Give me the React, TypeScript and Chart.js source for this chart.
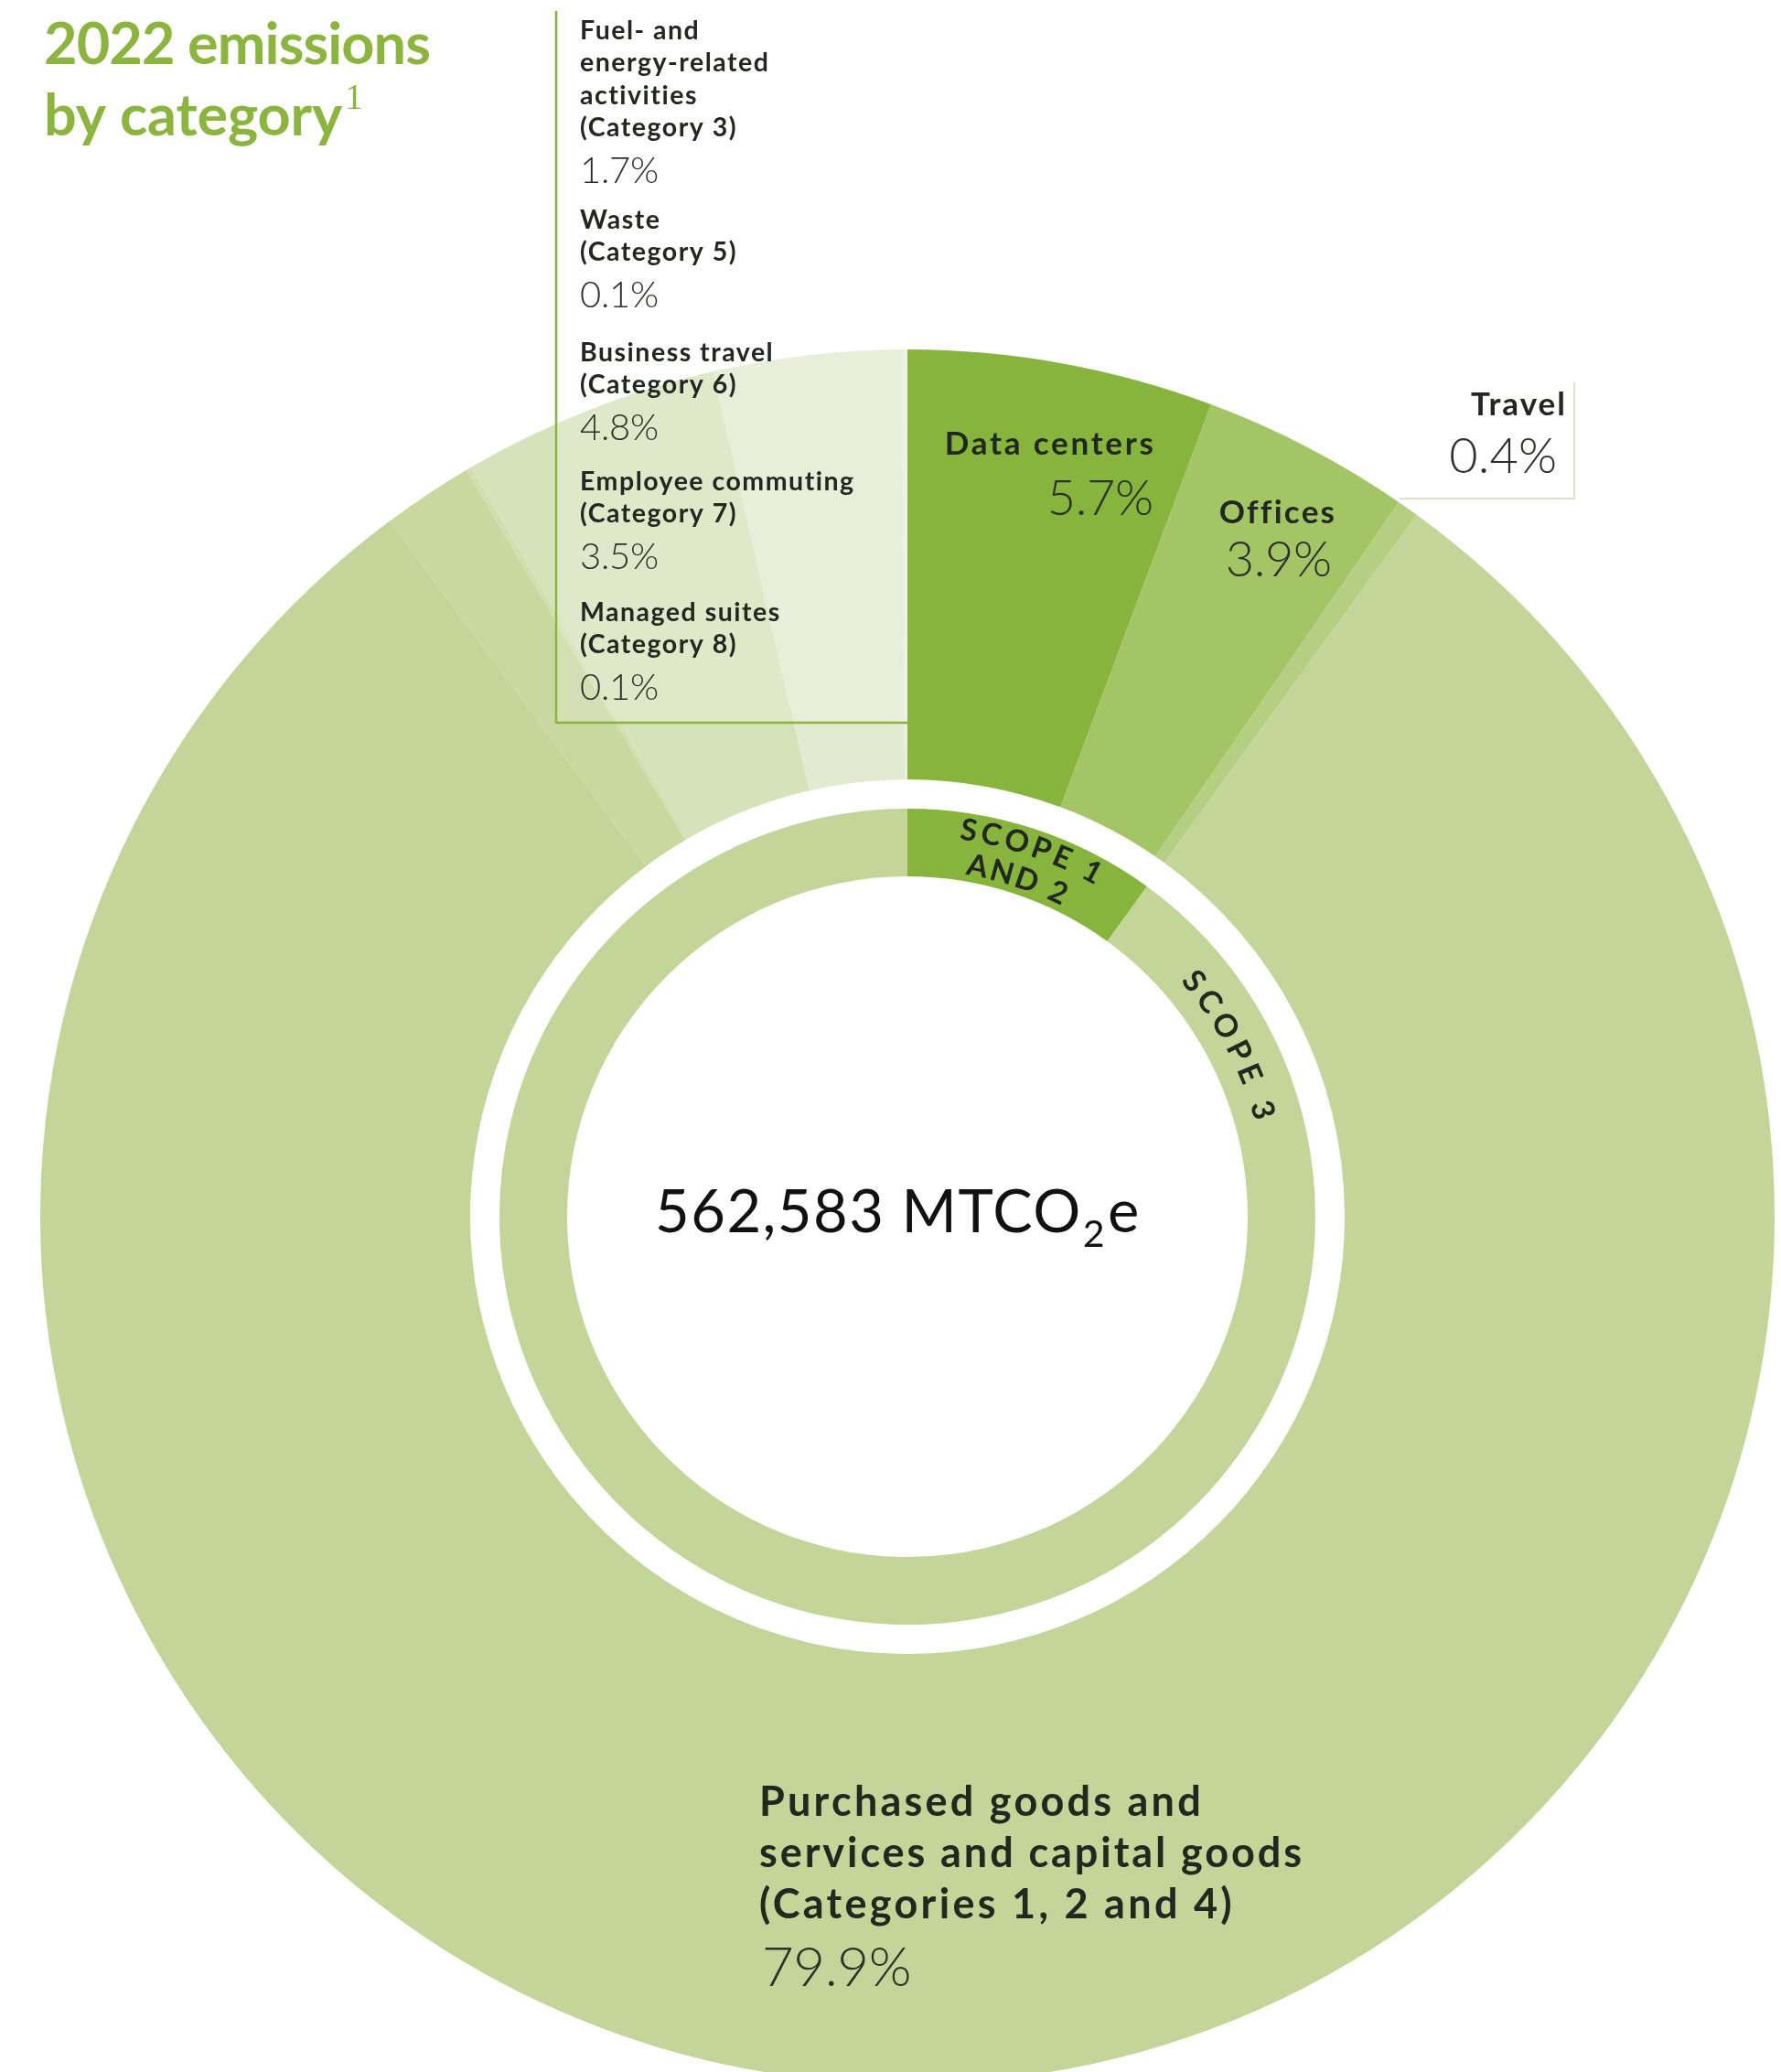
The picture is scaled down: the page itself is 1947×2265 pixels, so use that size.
import React, { useEffect, useRef } from "react";
import { Chart, registerables } from "chart.js";

Chart.register(...registerables);

// ---------------- data ----------------
const categoryLabelLines: string[][] = [
  ["Data centers"],
  ["Offices"],
  ["Travel"],
  ["Purchased goods and", "services and capital goods", "(Categories 1, 2 and 4)"],
  ["Fuel- and", "energy-related", "activities", "(Category 3)"],
  ["Waste", "(Category 5)"],
  ["Business travel", "(Category 6)"],
  ["Employee commuting", "(Category 7)"],
  ["Managed suites", "(Category 8)"],
];
const categoryNames = categoryLabelLines.map((l) => l.join(" "));
const categoryShares = [5.7, 3.9, 0.4, 79.9, 1.7, 0.1, 4.8, 3.5, 0.1];
const categoryColors = [
  "#86b43c",
  "#a3c566",
  "#b4cf82",
  "#c3d598",
  "#c8d89f",
  "#d1dfb0",
  "#d6e2b9",
  "#e2eacf",
  "#e9efdc",
];

const scopeLabelLines: string[][] = [["SCOPE 1", "AND 2"], ["SCOPE 3"]];
const scopeNames = scopeLabelLines.map((l) => l.join(" "));
const scopeShares = [10.0, 90.1];
const scopeColors = ["#86b43c", "#c3d598"];

const totalValue = "562,583";
const totalUnit = ["MTCO", "2", "e"];
const titleLines = ["2022 emissions", "by category"];
const titleNote = "1";

// ---------------- layout / style ----------------
const PAGE_W = 1947;
const PAGE_H = 2265;
const CANVAS_H = 2400;
const CX = 992;
const CY = 1330;
const R_OUT = 948;
const R_OUT_INNER = 478;
const R_IN_OUTER = 446;
const R_IN_INNER = 372;

const GREEN = "#8cb540";
const DARK = "#22271f";
const PCT = "#2c3029";
const FONT = "Lato, 'Open Sans', sans-serif";

type Line = {
  text: string;
  x: number;
  y: number;
  font: string;
  width?: number;
  ls?: number;
  align?: CanvasTextAlign;
  color: string;
};

function spacingFor(ctx: CanvasRenderingContext2D, text: string, font: string, target: number) {
  ctx.font = font;
  (ctx as any).letterSpacing = "0px";
  const w = ctx.measureText(text).width;
  return Math.max(-2, Math.min(10, (target - w) / Math.max(1, text.length)));
}

function drawLine(ctx: CanvasRenderingContext2D, t: Line) {
  const ls = t.width ? spacingFor(ctx, t.text, t.font, t.width) : t.ls ?? 0;
  ctx.font = t.font;
  (ctx as any).letterSpacing = ls + "px";
  ctx.textAlign = t.align ?? "left";
  ctx.textBaseline = "alphabetic";
  ctx.fillStyle = t.color;
  const x = t.align === "right" ? t.x + ls : t.x;
  ctx.fillText(t.text, x, t.y);
  (ctx as any).letterSpacing = "0px";
}

function arcText(
  ctx: CanvasRenderingContext2D,
  text: string,
  cx: number,
  cy: number,
  r: number,
  centerAngle: number,
  font: string,
  target: number,
  capH: number
) {
  ctx.save();
  ctx.font = font;
  (ctx as any).letterSpacing = "0px";
  const chars = Array.from(text);
  const widths = chars.map((c) => ctx.measureText(c).width);
  const base = widths.reduce((a, b) => a + b, 0);
  const ls = (target - base) / Math.max(1, chars.length - 1);
  const total = base + ls * (chars.length - 1);
  const a0 = centerAngle - total / (2 * r);
  let pos = 0;
  ctx.textAlign = "center";
  ctx.textBaseline = "alphabetic";
  ctx.fillStyle = DARK;
  chars.forEach((c, i) => {
    const ang = a0 + (pos + widths[i] / 2) / r;
    ctx.save();
    ctx.translate(cx + r * Math.sin(ang), cy - r * Math.cos(ang));
    ctx.rotate(ang);
    ctx.fillText(c, 0, capH / 2);
    ctx.restore();
    pos += widths[i] + ls;
  });
  ctx.restore();
}

const pct = (v: number) => `${v.toFixed(1)}%`;

// slice label placements (indices 0..3)
const sliceLabelPos = [
  { x: 1261, y: [497], py: 563, align: "right" as CanvasTextAlign, w: [231], pw: 116 },
  { x: 1459, y: [572], py: 630, align: "right" as CanvasTextAlign, w: [127], pw: 116 },
  { x: 1711, y: [454], py: 517, align: "right" as CanvasTextAlign, w: [105], pw: 118 },
  { x: 830, y: [1985, 2041, 2097], py: 2171, align: "left" as CanvasTextAlign, w: [486, 596, 520], pw: 163 },
];
// legend placements (indices 4..8)
const legendX = 634;
const legendTop = [43, 250, 395, 536, 679];
const legendStep = 35.3;
const legendPctGap = 51;

const labelsPlugin = {
  id: "labels",
  afterDraw(chart: any) {
    const ctx: CanvasRenderingContext2D = chart.ctx;
    const outerMeta = chart.getDatasetMeta(0);
    const innerMeta = chart.getDatasetMeta(2);
    const cx = outerMeta.data[0].x;
    const cy = outerMeta.data[0].y;
    ctx.save();

    // legend box overlay and border
    ctx.fillStyle = "rgba(255,255,255,0.22)";
    ctx.fillRect(609, 12, cx - 609, 778);
    ctx.strokeStyle = "#8ab33f";
    ctx.lineWidth = 2.5;
    ctx.beginPath();
    ctx.moveTo(608, 12);
    ctx.lineTo(608, 790);
    ctx.lineTo(cx, 790);
    ctx.stroke();

    // travel box border
    ctx.strokeStyle = "#dcdfd2";
    ctx.lineWidth = 2;
    ctx.beginPath();
    ctx.moveTo(1721, 418);
    ctx.lineTo(1721, 545);
    ctx.lineTo(1530, 545);
    ctx.stroke();

    // title
    drawLine(ctx, { text: titleLines[0], x: 48, y: 70, font: `bold 63px ${FONT}`, width: 422, color: GREEN });
    drawLine(ctx, { text: titleLines[1], x: 48, y: 148, font: `bold 63px ${FONT}`, width: 326, color: GREEN });
    drawLine(ctx, { text: titleNote, x: 377, y: 119, font: `40px 'Liberation Serif', serif`, color: GREEN });

    // legend categories
    for (let k = 0; k < 5; k++) {
      const idx = 4 + k;
      const lines = categoryLabelLines[idx];
      const y = legendTop[k];
      lines.forEach((t, j) => {
        drawLine(ctx, { text: t, x: legendX, y: y + j * legendStep, font: `bold 28.5px ${FONT}`, ls: 1.5, color: DARK });
      });
      const py = y + (lines.length - 1) * legendStep + legendPctGap;
      drawLine(ctx, { text: pct(categoryShares[idx]), x: legendX, y: py, font: `300 40px ${FONT}`, width: 86, color: PCT });
    }

    // slice labels
    sliceLabelPos.forEach((p, idx) => {
      const big = idx === 3;
      categoryLabelLines[idx].forEach((t, j) => {
        drawLine(ctx, {
          text: t,
          x: p.x,
          y: p.y[j],
          font: big ? `bold 45px ${FONT}` : `bold 35px ${FONT}`,
          width: p.w[j],
          align: p.align,
          color: DARK,
        });
      });
      drawLine(ctx, {
        text: pct(categoryShares[idx]),
        x: big ? p.x + 3 : p.x - (idx === 0 ? 0 : idx === 1 ? 3 : 9),
        y: p.py,
        font: big ? `300 60px ${FONT}` : `300 54px ${FONT}`,
        width: p.pw,
        align: p.align,
        color: PCT,
      });
    });

    // centre total
    ctx.fillStyle = "#111";
    ctx.textAlign = "left";
    ctx.textBaseline = "alphabetic";
    (ctx as any).letterSpacing = "1.5px";
    ctx.font = `400 65px ${FONT}`;
    const main = `${totalValue} ${totalUnit[0]}`;
    let x = 716;
    ctx.fillText(main, x, 1347);
    x += ctx.measureText(main).width;
    ctx.font = `400 41px ${FONT}`;
    ctx.fillText(totalUnit[1], x + 1, 1363);
    x += ctx.measureText(totalUnit[1]).width + 3;
    ctx.font = `400 65px ${FONT}`;
    ctx.fillText(totalUnit[2], x, 1347);
    (ctx as any).letterSpacing = "0px";

    // curved scope labels
    const a0 = innerMeta.data[0];
    const a1 = innerMeta.data[1];
    const rin = a0.innerRadius;
    const rout = a0.outerRadius;
    const mid0 = (a0.startAngle + a0.endAngle) / 2 + Math.PI / 2;
    const sFont = `bold 33px ${FONT}`;
    arcText(ctx, scopeLabelLines[0][0], cx, cy, rout - 18, mid0 + 0.012, sFont, 162, 23);
    arcText(ctx, scopeLabelLines[0][1], cx, cy, rin + 19, mid0, sFont, 114, 23);
    const s3 = a1.startAngle + Math.PI / 2 + (26 * Math.PI) / 180;
    arcText(ctx, scopeLabelLines[1][0], cx, cy, (rin + rout) / 2 - 3, s3, `bold 34px ${FONT}`, 180, 24);

    ctx.restore();
  },
};

export default function App() {
  const ref = useRef<HTMLCanvasElement | null>(null);

  useEffect(() => {
    const canvas = ref.current;
    if (!canvas) return;
    const chart = new Chart(canvas, {
      type: "doughnut",
      data: {
        labels: categoryNames,
        datasets: [
          {
            label: "Category",
            data: categoryShares,
            backgroundColor: categoryColors,
            borderWidth: 0,
            weight: R_OUT - R_OUT_INNER,
          } as any,
          {
            label: "gap",
            data: [1],
            backgroundColor: ["rgba(0,0,0,0)"],
            borderWidth: 0,
            weight: R_OUT_INNER - R_IN_OUTER,
          } as any,
          {
            label: "Scope",
            data: scopeShares,
            backgroundColor: scopeColors,
            borderWidth: 0,
            weight: R_IN_OUTER - R_IN_INNER,
          } as any,
        ],
      },
      options: {
        responsive: false,
        maintainAspectRatio: false,
        animation: false,
        devicePixelRatio: 1,
        events: [],
        cutout: R_IN_INNER,
        spacing: 0,
        layout: {
          padding: {
            left: CX - R_OUT,
            right: PAGE_W - (CX + R_OUT),
            top: CY - R_OUT,
            bottom: CANVAS_H - (CY + R_OUT),
          },
        },
        plugins: {
          legend: { display: false },
          tooltip: { enabled: false },
        },
      } as any,
      plugins: [labelsPlugin],
    });
    return () => chart.destroy();
  }, []);

  return (
    <div
      style={{
        position: "absolute",
        left: 0,
        top: 0,
        width: PAGE_W,
        height: PAGE_H,
        overflow: "hidden",
        background: "#ffffff",
      }}
    >
      <canvas
        ref={ref}
        width={PAGE_W}
        height={CANVAS_H}
        style={{ display: "block", width: PAGE_W, height: CANVAS_H }}
      />
    </div>
  );
}
